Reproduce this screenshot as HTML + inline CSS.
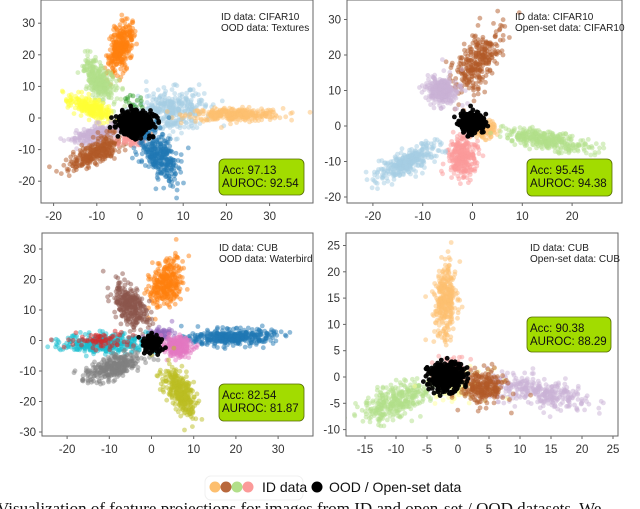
<!DOCTYPE html>
<html><head><meta charset="utf-8">
<style>
html,body{margin:0;padding:0;background:#fff;width:640px;height:509px;overflow:hidden;position:relative;font-family:"Liberation Sans",sans-serif}
svg{position:absolute;left:0;top:0}
.cap{position:absolute;left:-3px;top:499px;font-family:"Liberation Serif",serif;font-size:17px;white-space:nowrap;color:#111}
</style></head><body>
<svg id="fig" width="640" height="509"></svg>
<div class="cap">Visualization of feature projections for images from ID and open-set / OOD datasets. We</div>
<script>
// ---- data ----
// cluster rows: [centerX, centerY, angleDeg, sdAlong, sdAcross, count, color, name]
const clustersA = [
 [7,2,20,4.5,3.3,380,'#a6cee3','lightblue'],
 [22,1,0,5.5,1,300,'#fdbf6f','lightorange'],
 [-4.5,22,80,4,1.3,300,'#ff7f0e','orange'],
 [-9.5,12,112,3.5,1.4,280,'#b2df8a','lightgreen'],
 [-11,3,145,3,1.3,250,'#ffff33','yellow'],
 [-10,-5,200,3,1.4,200,'#cab2d6','lilac'],
 [-10,-11,219,4,1.6,300,'#b15928','brown'],
 [-2,-7,0,1.5,1,60,'#fb9a99','pink'],
 [4,-11,-65,4.5,2,320,'#1f78b4','blue'],
 [-2,5,0,1.5,1,15,'#33a02c','green'],
 [-1,-1.5,30,2,1.9,420,'#000000','ood']
];
const clustersB = [
 [1,18,70,5,1.8,300,'#b15928','brown'],
 [-6,10,100,2,1.6,280,'#cab2d6','lilac'],
 [2,-1,0,1.3,1.2,150,'#fdbf6f','lightorange'],
 [15,-4,-14,4.5,1.2,320,'#b2df8a','lightgreen'],
 [-2,-9,90,3,1.4,280,'#fb9a99','pink'],
 [-13,-10,38,4,1.3,320,'#a6cee3','lightblue'],
 [0,1,90,1.3,1.1,420,'#000000','ood']
];
const clustersC = [
 [3.5,19,80,4,1.8,300,'#ff7f0e','orange'],
 [-5,11,110,4,1.7,300,'#8c564b','brown'],
 [19,1,2,5,1.3,380,'#1f77b4','blue'],
 [2,2,0,1.5,1,80,'#9467bd','purple'],
 [6,-2,0,1.8,1.6,220,'#e377c2','pink'],
 [-11,-1,0,5,1.6,320,'#17becf','cyan'],
 [-12,0,0,4,1.3,70,'#d62728','red'],
 [-9,-9,27,3.5,1.8,300,'#7f7f7f','gray'],
 [7,-17,-70,4.2,1.6,300,'#bcbd22','olive'],
 [0,-1,90,1.3,1.1,120,'#000000','ood']
];
const clustersD = [
 [-2,14,90,3.5,0.9,300,'#fdbf6f','lightorange'],
 [-10,-4.5,30,3,1.5,320,'#b2df8a','lightgreen'],
 [13,-3,-12,4.5,1.3,320,'#cab2d6','lilac'],
 [0,-1.5,0,2.5,1.5,100,'#ffff99','yellow'],
 [-1,2,0,1.3,1,60,'#fb9a99','pink'],
 [4,-2,0,1.8,1.6,250,'#b15928','brown'],
 [-2,0,0,1.4,1.3,380,'#000000','ood']
];
const ticksAx=[-20,-10,0,10,20,30], ticksAy=[-20,-10,0,10,20,30];
const ticksBx=[-20,-10,0,10,20], ticksBy=[-20,-10,0,10,20,30];
const ticksCx=[-20,-10,0,10,20,30], ticksCy=[-30,-20,-10,0,10,20,30];
const ticksDx=[-15,-10,-5,0,5,10,15,20,25], ticksDy=[-10,-5,0,5,10,15,20,25];
const labelsA=['ID data: CIFAR10','OOD data: Textures'], scoresA=['Acc: 97.13','AUROC: 92.54'];
const labelsB=['ID data: CIFAR10','Open-set data: CIFAR10'], scoresB=['Acc: 95.45','AUROC: 94.38'];
const labelsC=['ID data: CUB','OOD data: Waterbird'], scoresC=['Acc: 82.54','AUROC: 81.87'];
const labelsD=['ID data: CUB','Open-set data: CUB'], scoresD=['Acc: 90.38','AUROC: 88.29'];
const legendColors=['#fdbf6f','#b8683c','#b2df8a','#fb9a99'];

// ---- rendering ----
const NS='http://www.w3.org/2000/svg';
const svg=document.getElementById('fig');
function mk(t,a,p){const e=document.createElementNS(NS,t);for(const k in a)e.setAttribute(k,a[k]);(p||svg).appendChild(e);return e;}
let seed=12345;
function rnd(){seed=(seed*1103515245+12345)%2147483648;return seed/2147483648;}
function gauss(){let u=rnd()||1e-9,v=rnd();return Math.sqrt(-2*Math.log(u))*Math.cos(2*Math.PI*v);}

function panel(id,box,x0,sx,y0,sy,clusters,tx,ty,labels,scores,tp,sb){
 const g=mk('g',{});
 
 
 const X=v=>x0+v*sx, Y=v=>y0-v*sy;
 const cid='clip-'+id;
 const defs=mk('defs',{},g);const cp=mk('clipPath',{id:cid},defs);
 mk('rect',{x:box[0],y:box[1],width:box[2]-box[0],height:box[3]-box[1]},cp);
 const pts=mk('g',{'clip-path':'url(#'+cid+')'},g);
 
 
 clusters.forEach(c=>{
  const cg=mk('g',{fill:c[6],'fill-opacity':c[6]==='#000000'?0.95:0.5},pts);
  
  
  const a=c[2]*Math.PI/180, ca=Math.cos(a), sa=Math.sin(a);
  for(let i=0;i<c[5];i++){
   const u=gauss()*c[3], w=gauss()*c[4];
   const px=c[0]+u*ca-w*sa, py=c[1]+u*sa+w*ca;
   const p=mk('circle',{cx:X(px).toFixed(1),cy:Y(py).toFixed(1),r:2.4},cg);
   
   
  }
 });
 const fr=mk('rect',{x:box[0],y:box[1],width:box[2]-box[0],height:box[3]-box[1],fill:'none',stroke:'#666','stroke-width':1},g);
 
 
 tx.forEach(v=>{
  mk('line',{x1:X(v),x2:X(v),y1:box[3],y2:box[3]+3,stroke:'#666'},g);
  const t=mk('text',{x:X(v),y:box[3]+17,'text-anchor':'middle','font-size':11.5,fill:'#333'},g);
  t.textContent=v;
  
  
 });
 ty.forEach(v=>{
  mk('line',{x1:box[0]-3,x2:box[0],y1:Y(v),y2:Y(v),stroke:'#666'},g);
  const t=mk('text',{x:box[0]-6,y:Y(v)+4,'text-anchor':'end','font-size':11.5,fill:'#333'},g);
  t.textContent=v;
  
  
 });
 labels.forEach((s,i)=>{
  const t=mk('text',{x:tp[0],y:tp[1]+i*11,'font-size':10,fill:'#222'},g);
  t.textContent=s;
  
  
 });
 const b=mk('rect',{x:sb[0],y:sb[1],width:sb[2],height:sb[3],rx:5,fill:'#a2dc00',stroke:'#556b00','stroke-width':0.8},g);
 
 
 scores.forEach((s,i)=>{
  const t=mk('text',{x:sb[0]+3,y:sb[1]+15+i*13,'font-size':11.5,fill:'#111'},g);
  t.textContent=s;
  
  
 });
}
panel('panel-cifar-textures',[41,0,313,203],140,4.32,118,3.16,clustersA,ticksAx,ticksAy,labelsA,scoresA,[221,20],[219,159,85,36]);
panel('panel-cifar-openset',[347,0,622,203],472.5,4.98,126,3.55,clustersB,ticksBx,ticksBy,labelsB,scoresB,[515,20],[527,159,85,37]);
panel('panel-cub-waterbird',[42,233,313,436],151.5,4.22,340.5,3.05,clustersC,ticksCx,ticksCy,labelsC,scoresC,[219,251],[219,384,85,37]);
panel('panel-cub-openset',[346,233,618,436],458,6.2,377,5.26,clustersD,ticksDx,ticksDy,labelsD,scoresD,[530,251],[527,317,84,35]);

// legend
const lg=mk('g',{});


mk('rect',{x:205,y:476,width:98,height:24,rx:6,fill:'#fff',stroke:'#f0f0f0'},lg);
legendColors.forEach((c,i)=>{
 const d=mk('circle',{cx:215+i*11,cy:487,r:5.5,fill:c},lg);
 
 
});
const l1=mk('text',{x:262,y:492,'font-size':14,fill:'#111'},lg);l1.textContent='ID data';


const bd=mk('circle',{cx:317,cy:487,r:5.5,fill:'#000'},lg);


const l2=mk('text',{x:329,y:492,'font-size':14,fill:'#111'},lg);l2.textContent='OOD / Open-set data';


</script>
</body></html>
